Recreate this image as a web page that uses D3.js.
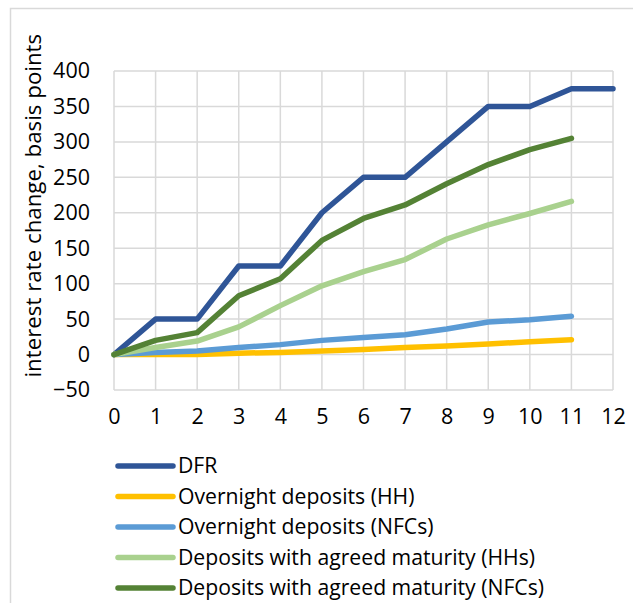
<!DOCTYPE html>
<html>
<head>
<meta charset="utf-8">
<script src="https://cdn.jsdelivr.net/npm/d3@7"></script>
<style>
  body { margin: 0; background: #fff; }
  text { font-family: "Open Sans", Lato, sans-serif; fill: #000; }
</style>
</head>
<body>
<div id="chart"></div>
<script>
// data
const months = [0, 1, 2, 3, 4, 5, 6, 7, 8, 9, 10, 11, 12];
const yTicks = [-50, 0, 50, 100, 150, 200, 250, 300, 350, 400];
const dfr = [0, 50, 50, 125, 125, 200, 250, 250, 300, 350, 350, 375, 375];
const overnightHH = [0, 0, 0, 2, 3, 5, 7, 10, 12, 15, 18, 21];
const overnightNFC = [0, 3, 5, 10, 14, 20, 24, 28, 36, 46, 49, 54];
const agreedHH = [0, 10, 19, 39, 69, 97, 117, 134, 163, 183, 199, 216];
const agreedNFC = [0, 20, 31, 83, 107, 161, 192, 211, 241, 268, 289, 305];

const series = [
  {name: "DFR", values: dfr, color: "#2F5597"},
  {name: "Overnight deposits (HH)", values: overnightHH, color: "#FFC000"},
  {name: "Overnight deposits (NFCs)", values: overnightNFC, color: "#5B9BD5"},
  {name: "Deposits with agreed maturity (HHs)", values: agreedHH, color: "#A9D18E"},
  {name: "Deposits with agreed maturity (NFCs)", values: agreedNFC, color: "#548235"}
];

const W = 633, H = 603;
const margin = {top: 71, left: 114, right: 20, bottom: 213};
const width = 613 - margin.left,
    height = 390 - margin.top;

const svg = d3.select("#chart")
  .append("svg")
    .attr("width", W)
    .attr("height", H);

// outer chart border (cropped at right/bottom)
svg.append("path")
  .attr("d", `M10.5,${H} V8.5 H${W}`)
  .attr("fill", "none")
  .attr("stroke", "#d9d9d9")
  .attr("stroke-width", 1.5);

const g = svg.append("g")
  .attr("transform", `translate(${margin.left},${margin.top})`);

const x = d3.scaleLinear().domain([0, 12]).range([0, width]);
const y = d3.scaleLinear().domain([-50, 400]).range([height, 0]);

// grid
g.append("g")
  .selectAll("line")
  .data(yTicks)
  .join("line")
    .attr("x1", 0).attr("x2", width)
    .attr("y1", d => y(d)).attr("y2", d => y(d))
    .attr("stroke", "#d9d9d9").attr("stroke-width", 1.5);
g.append("g")
  .selectAll("line")
  .data(months)
  .join("line")
    .attr("x1", d => x(d)).attr("x2", d => x(d))
    .attr("y1", 0).attr("y2", height)
    .attr("stroke", "#d9d9d9").attr("stroke-width", 1.5);

// Y axis
const yAxis = g.append("g")
  .call(d3.axisLeft(y).tickValues(yTicks).tickSize(0).tickPadding(24));
yAxis.select(".domain").remove();
yAxis.selectAll("text").style("font-size", "21.5px").attr("fill", "#000");

// X axis
const xAxis = g.append("g")
  .attr("transform", `translate(0, ${height})`)
  .call(d3.axisBottom(x).tickValues(months).tickSize(0).tickPadding(19));
xAxis.select(".domain").remove();
xAxis.selectAll("text").style("font-size", "21.5px").attr("fill", "#000");

// axis title
svg.append("text")
  .attr("transform", `translate(41, ${margin.top + y(210)}) rotate(-90)`)
  .attr("text-anchor", "middle")
  .style("font-size", "22.3px")
  .text("interest rate change, basis points");

// lines
const line = d3.line()
  .x((d, i) => x(months[i]))
  .y(d => y(d));

g.selectAll(".series")
  .data(series)
  .join("path")
    .attr("class", "series")
    .attr("d", d => line(d.values))
    .attr("fill", "none")
    .attr("stroke", d => d.color)
    .attr("stroke-width", 5.5)
    .attr("stroke-linejoin", "round")
    .attr("stroke-linecap", "round");

// legend
const legend = svg.append("g")
  .attr("transform", "translate(118, 466)");
const item = legend.selectAll("g")
  .data(series)
  .join("g")
    .attr("transform", (d, i) => `translate(0, ${i * 30.5})`);
item.append("line")
  .attr("x1", 0).attr("x2", 55)
  .attr("stroke", d => d.color)
  .attr("stroke-width", 5.5)
  .attr("stroke-linecap", "round");
item.append("text")
  .attr("x", 60)
  .attr("dy", "0.35em")
  .style("font-size", "21.2px")
  .text(d => d.name);
</script>
</body>
</html>
